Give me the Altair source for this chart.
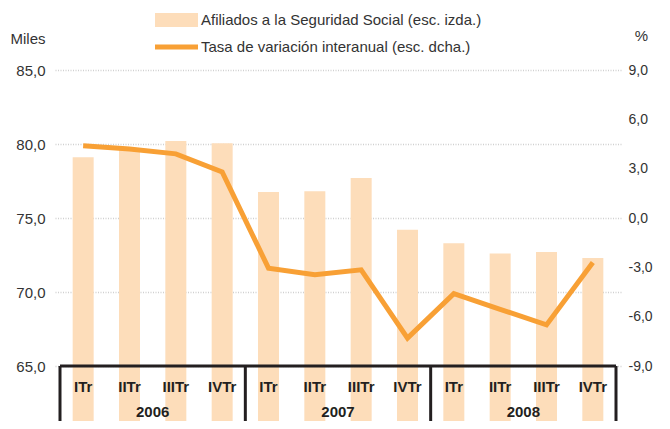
import altair as alt
import pandas as pd

quarters = ["ITr", "IITr", "IIITr", "IVTr"] * 3
years = ["2006"] * 4 + ["2007"] * 4 + ["2008"] * 4
afiliados = [79.1, 79.6, 80.2, 80.05, 76.75, 76.8, 77.7, 74.2, 73.3, 72.6, 72.7, 72.3]
tasa = [4.4, 4.2, 3.9, 2.8, -3.05, -3.45, -3.15, -7.3, -4.6, -5.55, -6.5, -2.7]
left_ticks = [65, 70, 75, 80, 85]
right_ticks = [-9, -6, -3, 0, 3, 6, 9]
legend_labels = ["Afiliados a la Seguridad Social (esc. izda.)",
                 "Tasa de variación interanual (esc. dcha.)"]

BAR = "#FDDDBA"
LINE = "#F8A035"
DARK = "#231F20"
TXT = "#333333"
FONT = "Liberation Sans"

W, H = 566, 296

df = pd.DataFrame({"quarter": quarters, "year": years,
                   "afiliados": afiliados, "tasa": tasa})
df["pos"] = df.index + 0.5

yr = df.groupby("year", sort=False)["pos"].agg(["mean", "min", "max"]).reset_index()
year_df = pd.DataFrame({"year": yr["year"], "center": yr["mean"]})
seps = [float(yr["min"].iloc[0] - 0.5)] + [float(v + 0.5) for v in yr["max"]]
sep_df = pd.DataFrame({"x": seps})
axis_df = pd.DataFrame({"x": [seps[0]], "x2": [seps[-1]]})

xscale = alt.Scale(domain=[seps[0], seps[-1]], nice=False, zero=False)
fmt = "replace(replace(format(datum.value, '.1f'), '.', ','), '\u2212', '-')"

base = alt.Chart(df)

bars = base.mark_bar(color=BAR, size=21).encode(
    x=alt.X("pos:Q", scale=xscale, axis=None),
    y=alt.Y("afiliados:Q",
            scale=alt.Scale(domain=[left_ticks[0], left_ticks[-1]], nice=False, zero=False),
            axis=alt.Axis(values=left_ticks, labelExpr=fmt, title="Miles",
                          titleAngle=0, titleAlign="left", titleBaseline="middle",
                          titleX=-45, titleY=-32, titleFont=FONT, titleFontSize=15,
                          titleFontWeight="normal", titleColor=TXT,
                          labelFont=FONT, labelFontSize=15, labelColor=TXT,
                          labelPadding=10, ticks=False, domain=False,
                          grid=True, gridColor="#D0D0D0", gridDash=[1, 1.5],
                          gridWidth=1.5)),
)

line = base.mark_line(color=LINE, strokeWidth=5, strokeJoin="miter").encode(
    x=alt.X("pos:Q", scale=xscale, axis=None),
    y=alt.Y("tasa:Q",
            scale=alt.Scale(domain=[right_ticks[0], right_ticks[-1]], nice=False, zero=False),
            axis=alt.Axis(orient="right", values=right_ticks, labelExpr=fmt, title="%",
                          titleAngle=0, titleAlign="center", titleBaseline="middle",
                          titleX=20, titleY=-35, titleFont=FONT, titleFontSize=15,
                          titleFontWeight="normal", titleColor=TXT,
                          labelFont=FONT, labelFontSize=14, labelColor=TXT,
                          labelPadding=7, ticks=False, domain=False, grid=False)),
)

baseline = alt.Chart(axis_df).mark_rule(color=DARK, strokeWidth=3).encode(
    x=alt.X("x:Q", scale=xscale, axis=None), x2="x2:Q",
    y=alt.value(H),
)

separators = alt.Chart(sep_df).mark_rule(color=DARK, strokeWidth=3).encode(
    x=alt.X("x:Q", scale=xscale, axis=None),
    y=alt.value(H), y2=alt.value(H + 80),
)

qlabels = base.mark_text(font=FONT, fontSize=15, fontWeight="bold", color=DARK,
                         baseline="middle").encode(
    x=alt.X("pos:Q", scale=xscale, axis=None),
    y=alt.value(H + 21),
    text="quarter:N",
)

ylabels = alt.Chart(year_df).mark_text(font=FONT, fontSize=15, fontWeight="bold",
                                       color=DARK, baseline="middle").encode(
    x=alt.X("center:Q", scale=xscale, axis=None),
    y=alt.value(H + 46),
    text="year:N",
)

leg_df = pd.DataFrame({"label": legend_labels, "row": [0, 1]})
leg_bar = alt.Chart(leg_df.iloc[[0]]).mark_rect(color=BAR).encode(
    x=alt.value(100), x2=alt.value(143), y=alt.value(-57), y2=alt.value(-43))
leg_line = alt.Chart(leg_df.iloc[[1]]).mark_rule(color=LINE, strokeWidth=5).encode(
    x=alt.value(100), x2=alt.value(143), y=alt.value(-23))
leg_text1 = alt.Chart(leg_df.iloc[[0]]).mark_text(
    font=FONT, fontSize=15, color=TXT, align="left", baseline="middle").encode(
    x=alt.value(146), y=alt.value(-50), text="label:N")
leg_text2 = alt.Chart(leg_df.iloc[[1]]).mark_text(
    font=FONT, fontSize=15, color=TXT, align="left", baseline="middle").encode(
    x=alt.value(146), y=alt.value(-23), text="label:N")

chart = alt.layer(
    bars, line, baseline, separators, qlabels, ylabels,
    leg_bar, leg_line, leg_text1, leg_text2,
).resolve_scale(y="independent").properties(
    width=W, height=H,
    autosize=alt.AutoSizeParams(type="none"),
    padding={"left": 47, "top": 62, "right": 41, "bottom": 55},
).configure_view(stroke=None)

chart.save("out.html", embed_options={"renderer": "svg", "actions": False})
